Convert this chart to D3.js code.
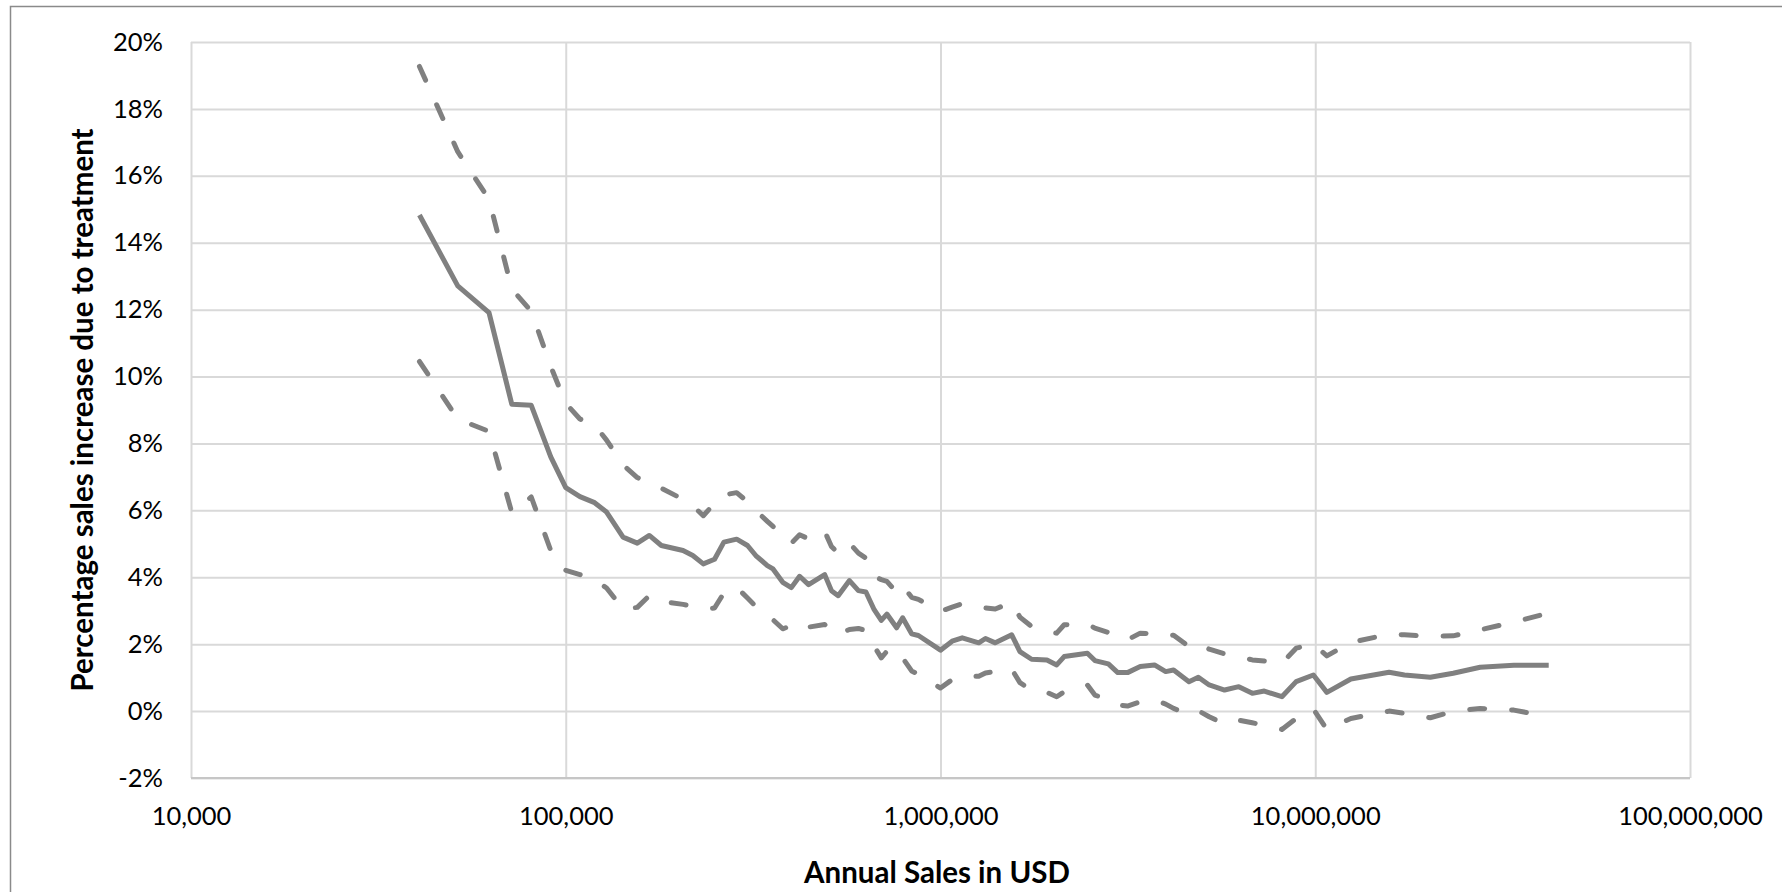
<!DOCTYPE html>
<html>
<head>
<meta charset="utf-8">
<script src="https://cdn.jsdelivr.net/npm/d3@7"></script>
<style>
  body { margin: 0; background: #fff; }
  svg { display: block; }
  text { font-family: Lato, "Open Sans", sans-serif; fill: #000; }
</style>
</head>
<body>
<div id="chart"></div>
<script>
// annual sales (USD) at each estimate point
const sales = [
  40700, 51500, 62400, 71800, 80900, 91200, 100000, 109100, 119400, 128500,
  142200, 155200, 167100, 179900, 205600, 218300, 232800, 249500, 264200, 285800,
  305500, 321400, 345100, 357300, 379300, 399900, 420700, 444600, 490900, 511700,
  533300, 571500, 603900, 632400, 665300, 695000, 719400, 763800, 792500, 837500,
  873000, 1000000, 1074000, 1143000, 1265000, 1318000, 1400000, 1549000, 1629000, 1750000,
  1923000, 2042000, 2138000, 2466000, 2582000, 2805000, 2972000, 3155000, 3412000, 3724000,
  3990000, 4188000, 4603000, 4875000, 5212000, 5728000, 6252000, 6792000, 7311000, 8147000,
  8892000, 9886000, 10740000, 12445000, 15740000, 17298000, 20277000, 23335000, 27542000, 33884000,
  41975000
];
// percentage sales increase due to treatment (point estimate)
const estimate = [
  14.83, 12.71, 11.91, 9.17, 9.14, 7.60, 6.68, 6.41, 6.23, 5.95,
  5.20, 5.02, 5.25, 4.95, 4.80, 4.65, 4.40, 4.54, 5.05, 5.14,
  4.95, 4.65, 4.35, 4.25, 3.85, 3.69, 4.03, 3.78, 4.08, 3.60,
  3.45, 3.90, 3.60, 3.56, 3.03, 2.71, 2.90, 2.49, 2.79, 2.31,
  2.26, 1.82, 2.09, 2.19, 2.04, 2.17, 2.04, 2.28, 1.78, 1.55,
  1.53, 1.38, 1.63, 1.73, 1.51, 1.41, 1.15, 1.15, 1.33, 1.38,
  1.18, 1.23, 0.88, 1.01, 0.78, 0.63, 0.73, 0.53, 0.60, 0.43,
  0.88, 1.08, 0.56, 0.96, 1.16, 1.08, 1.01, 1.13, 1.31, 1.37,
  1.37
];
// upper confidence bound
const upper = [
  19.27, 16.72, 15.30, 12.62, 11.95, 10.30, 9.20, 8.73, 8.55, 8.10,
  7.36, 6.98, 6.81, 6.66, 6.33, 6.14, 5.84, 6.21, 6.46, 6.53,
  6.26, 6.00, 5.67, 5.52, 5.27, 5.02, 5.27, 5.15, 5.37, 4.92,
  4.72, 5.02, 4.72, 4.57, 4.03, 3.93, 3.88, 3.55, 3.75, 3.40,
  3.34, 2.98, 3.11, 3.21, 3.15, 3.08, 3.05, 3.25, 2.81, 2.53,
  2.38, 2.33, 2.58, 2.61, 2.48, 2.35, 2.23, 2.13, 2.33, 2.31,
  2.23, 2.27, 1.93, 2.03, 1.85, 1.71, 1.63, 1.53, 1.50, 1.43,
  1.88, 2.01, 1.65, 2.05, 2.30, 2.28, 2.23, 2.25, 2.43, 2.66,
  2.93
];
// lower confidence bound
const lower = [
  10.45, 8.73, 8.36, 5.93, 6.40, 4.80, 4.21, 4.08, 3.93, 3.68,
  3.05, 3.10, 3.45, 3.28, 3.19, 3.13, 3.05, 3.08, 3.53, 3.70,
  3.38, 3.13, 2.88, 2.73, 2.46, 2.55, 2.66, 2.51, 2.59, 2.39,
  2.29, 2.44, 2.47, 2.41, 1.94, 1.59, 1.79, 1.49, 1.59, 1.20,
  1.10, 0.69, 0.94, 1.04, 1.04, 1.14, 1.18, 1.25, 0.85, 0.63,
  0.56, 0.43, 0.58, 0.78, 0.48, 0.33, 0.18, 0.15, 0.28, 0.33,
  0.21, 0.08, -0.09, 0.01, -0.17, -0.39, -0.27, -0.35, -0.42, -0.55,
  -0.22, 0.06, -0.55, -0.22, 0.00, -0.07, -0.20, -0.01, 0.08, 0.03,
  -0.17
];
const xTicks = [1e4, 1e5, 1e6, 1e7, 1e8];
const yTicks = [-2, 0, 2, 4, 6, 8, 10, 12, 14, 16, 18, 20];
const xTitle = "Annual Sales in USD";
const yTitle = "Percentage sales increase due to treatment";

const width = 1782, height = 892;
const plot = {left: 191, right: 1690, top: 42, bottom: 778};

const svg = d3.select("#chart").append("svg")
    .attr("width", width)
    .attr("height", height);

// chart frame (cropped on the right and bottom)
svg.append("path")
    .attr("d", "M10.5," + height + "V6.5H" + width)
    .attr("fill", "none")
    .attr("stroke", "#8a8a8a")
    .attr("stroke-width", 1.5);

const x = d3.scaleLog().domain([1e4, 1e8]).range([plot.left, plot.right]);
const y = d3.scaleLinear().domain([-2, 20]).range([plot.bottom, plot.top]);

// gridlines
svg.append("g")
    .attr("transform", "translate(0," + plot.bottom + ")")
    .call(d3.axisBottom(x).tickValues(xTicks).tickSize(-(plot.bottom - plot.top)).tickFormat(""))
    .call(g => g.select(".domain").remove())
    .selectAll("line").attr("stroke", "#d9d9d9").attr("stroke-width", 2);

svg.append("g")
    .attr("transform", "translate(" + plot.left + ",0)")
    .call(d3.axisLeft(y).tickValues(yTicks).tickSize(-(plot.right - plot.left)).tickFormat(""))
    .call(g => g.select(".domain").remove())
    .selectAll("line").attr("stroke", "#d9d9d9").attr("stroke-width", 2);

// x axis line
svg.append("line")
    .attr("x1", plot.left).attr("x2", plot.right)
    .attr("y1", y(-2)).attr("y2", y(-2))
    .attr("stroke", "#c6c6c6").attr("stroke-width", 2);

// tick labels
const xAxis = svg.append("g")
    .attr("transform", "translate(0," + plot.bottom + ")")
    .call(d3.axisBottom(x).tickValues(xTicks).tickSize(0).tickFormat(d3.format(",")));
xAxis.select(".domain").remove();
xAxis.selectAll("text")
    .attr("y", 47).attr("dy", null)
    .style("font-family", "Lato").style("font-size", "25.5px").attr("fill", "#000");

const yAxis = svg.append("g")
    .attr("transform", "translate(" + plot.left + ",0)")
    .call(d3.axisLeft(y).tickValues(yTicks).tickSize(0).tickPadding(28).tickFormat(d => d + "%"));
yAxis.select(".domain").remove();
yAxis.selectAll("text")
    .style("font-family", "Lato").style("font-size", "25.5px").attr("fill", "#000");

// axis titles
svg.append("text")
    .attr("x", 937).attr("y", 883)
    .attr("text-anchor", "middle")
    .style("font-size", "29.5px").style("font-weight", "bold")
    .text(xTitle);

svg.append("text")
    .attr("transform", "translate(93," + (plot.top + plot.bottom) / 2 + ")rotate(-90)")
    .attr("text-anchor", "middle")
    .style("font-size", "29.5px").style("font-weight", "bold")
    .text(yTitle);

// series
const line = d3.line()
    .x(d => x(d[0]))
    .y(d => y(d[1]));

const series = [
  {values: upper, dash: "15,27"},
  {values: lower, dash: "15,27"},
  {values: estimate, dash: null}
];

svg.append("g").selectAll("path")
    .data(series)
    .enter().append("path")
    .attr("d", s => line(sales.map((v, i) => [v, s.values[i]])))
    .attr("fill", "none")
    .attr("stroke", "#808080")
    .attr("stroke-width", 5)
    .attr("stroke-linejoin", "round")
    .attr("stroke-linecap", s => s.dash ? "round" : "butt")
    .attr("stroke-dasharray", s => s.dash);
</script>
</body>
</html>
